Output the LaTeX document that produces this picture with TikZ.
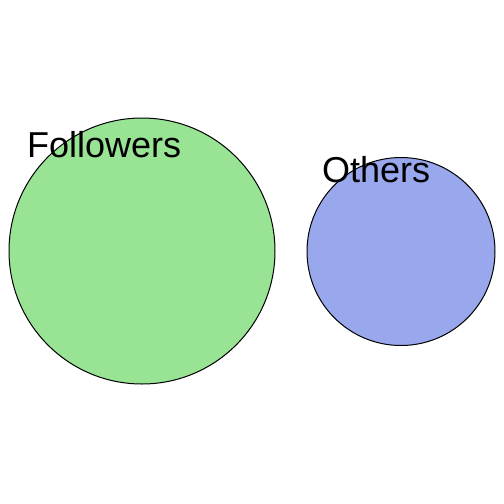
\documentclass[tikz,border=0pt]{standalone}
\usepackage{fontspec}
\setmainfont{Liberation Sans}
\definecolor{fgreen}{RGB}{152,227,148}
\definecolor{oblue}{RGB}{153,168,236}
\tikzset{setc/.style={draw=black,line width=1pt},
lab/.style={font=\fontsize{36}{36}\selectfont,inner sep=0pt,anchor=base west}}
\begin{document}
\begin{tikzpicture}[x=1pt,y=-1pt]
\useasboundingbox (0,0) rectangle (504,504);
\node[setc,fill=fgreen,circle,minimum size=266pt,inner sep=0pt] (f) at (142,251) {};
\node[setc,fill=oblue,circle,minimum size=188pt,inner sep=0pt] (o) at (401,251.5) {};
\node[lab] (fl) at (27,157) {Followers};
\node[lab] (ol) at (322,182) {Others};
\end{tikzpicture}
\end{document}
